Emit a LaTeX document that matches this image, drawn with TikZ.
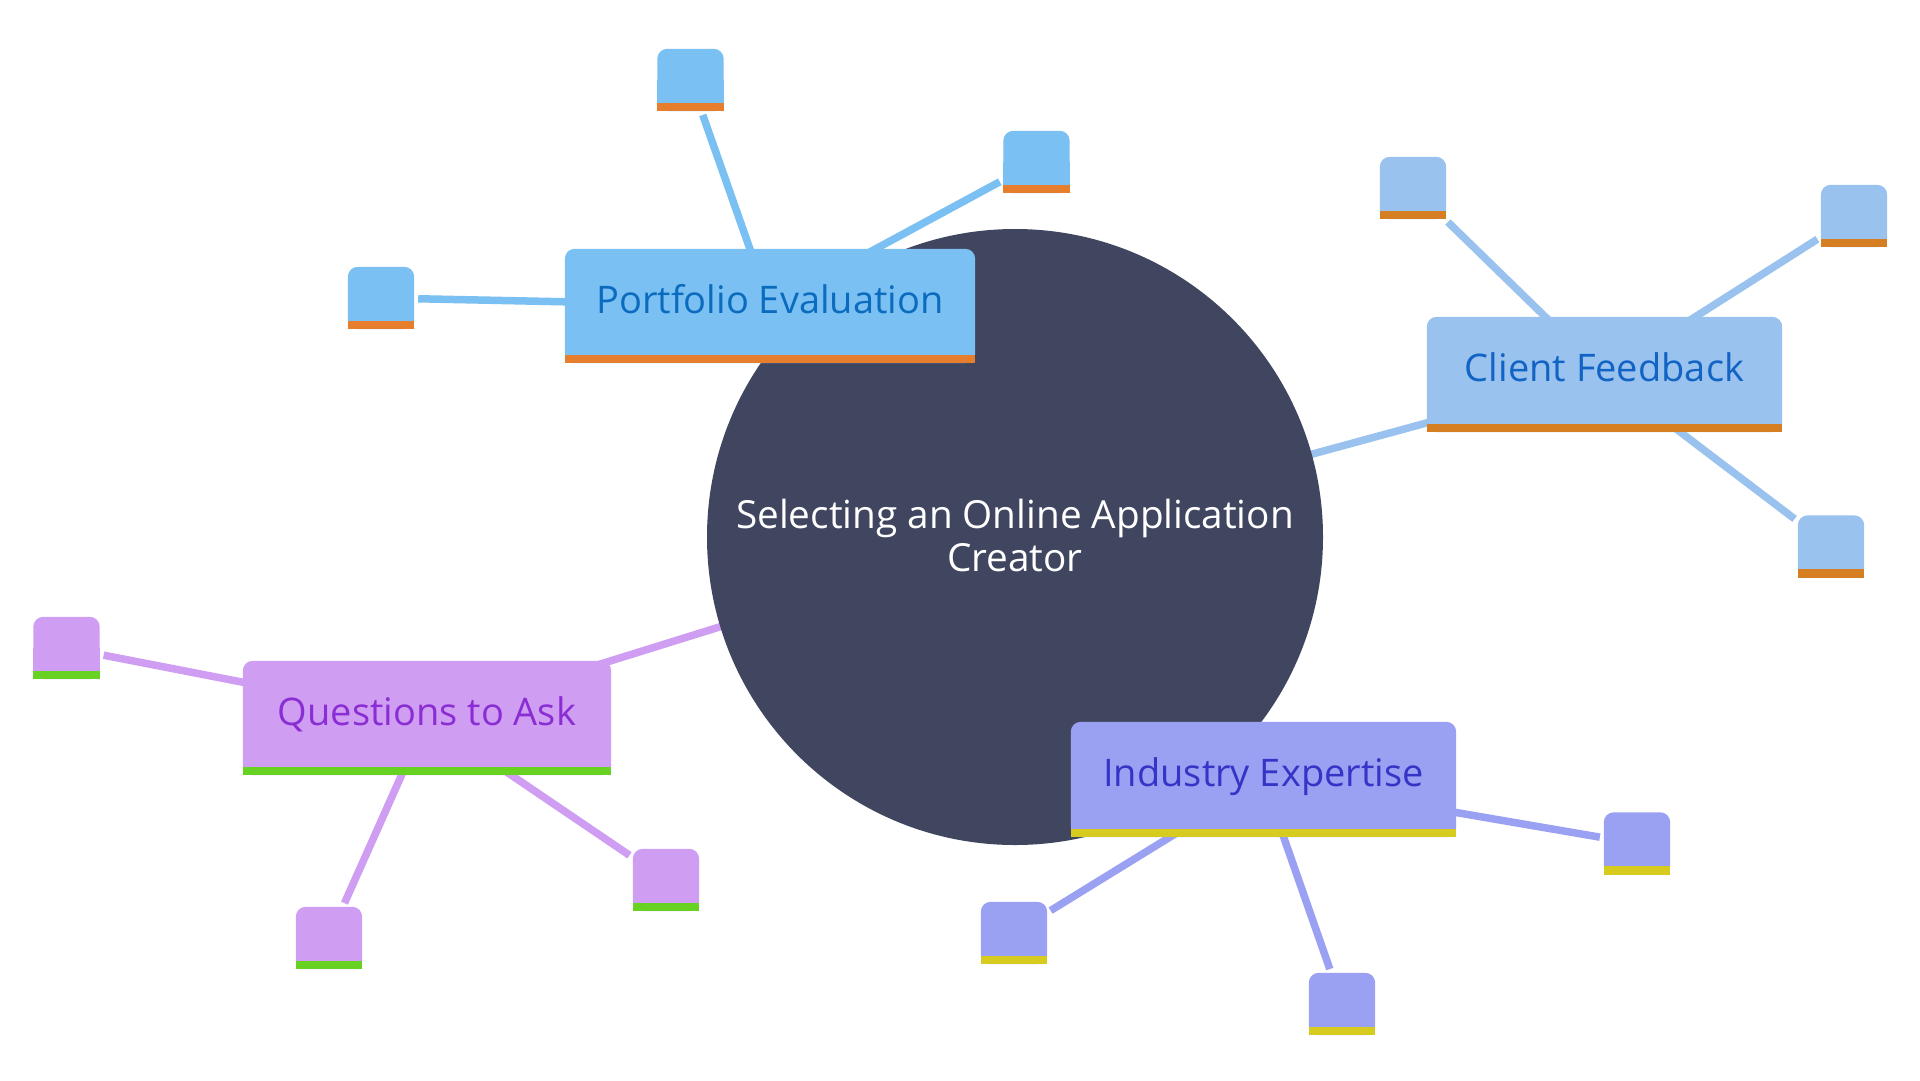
\documentclass[tikz,border=0pt]{standalone}
\usepackage{fontspec}
\setmainfont{Open Sans}
\definecolor{core}{HTML}{414660}
\definecolor{peFill}{HTML}{7AC0F2}
\definecolor{peBar}{HTML}{E67E2E}
\definecolor{peText}{HTML}{0B6BBE}
\definecolor{cfFill}{HTML}{9AC2EE}
\definecolor{cfBar}{HTML}{D67F22}
\definecolor{cfText}{HTML}{1163C4}
\definecolor{ieFill}{HTML}{9AA0F2}
\definecolor{ieBar}{HTML}{D6CB1E}
\definecolor{ieText}{HTML}{3434C6}
\definecolor{qaFill}{HTML}{CF9DF2}
\definecolor{qaBar}{HTML}{67D221}
\definecolor{qaText}{HTML}{8A2ED4}
\pgfdeclarelayer{paper}
\pgfdeclarelayer{links}
\pgfdeclarelayer{disc}
\pgfdeclarelayer{panes}
\pgfsetlayers{paper,links,disc,panes,main}
\begin{document}
\begin{tikzpicture}[x=1pt,y=-1pt,
  topic/.style={rectangle, inner sep=0pt, font=\fontsize{38}{43}\selectfont, text height=1.4em, text depth=0em},
  leaf/.style={rectangle, inner sep=0pt, minimum width=66pt, minimum height=62pt},
  link/.style={line width=7.5pt},
  twig/.style={line width=7.5pt, shorten >=4pt},
]
\begin{pgfonlayer}{paper}
\fill[white] (0,0) rectangle (1920,1080);
\end{pgfonlayer}
\useasboundingbox (0,0) rectangle (1920,1080);

% central topic
\node[circle, minimum size=616pt, inner sep=0pt, text=white, align=center,
      font=\fontsize{38.7}{43}\selectfont] (c) at (1015,535)
      {Selecting an Online Application\\Creator};

% main topics
\node[topic, minimum width=410pt, minimum height=114pt, text=peText] (pe) at (770,306) {Portfolio Evaluation};
\node[topic, minimum width=355pt, minimum height=115pt, text=cfText] (cf) at (1604.5,374.5) {Client Feedback};
\node[topic, minimum width=385pt, minimum height=115pt, text=ieText] (ie) at (1263.5,779.5) {Industry Expertise};
\node[topic, minimum width=368pt, minimum height=114pt, text=qaText] (qa) at (427,718) {Questions to Ask};

% leaves
\node[leaf] (pe1) at (690.5,80) {};
\node[leaf] (pe2) at (1036.5,162) {};
\node[leaf] (pe3) at (381,298) {};
\node[leaf] (cf1) at (1413,188) {};
\node[leaf] (cf2) at (1854,216) {};
\node[leaf] (cf3) at (1831,546.5) {};
\node[leaf] (qa1) at (66.5,648) {};
\node[leaf] (qa2) at (329,938) {};
\node[leaf] (qa3) at (666,880) {};
\node[leaf] (ie1) at (1014,933) {};
\node[leaf] (ie2) at (1342,1004) {};
\node[leaf] (ie3) at (1637,843.5) {};

\begin{pgfonlayer}{disc}
\fill[core] (1015,537) circle[radius=308pt];
\end{pgfonlayer}

\begin{pgfonlayer}{panes}
\foreach \n/\f/\b in {pe/peFill/peBar,pe1/peFill/peBar,pe2/peFill/peBar,pe3/peFill/peBar,
                      cf/cfFill/cfBar,cf1/cfFill/cfBar,cf2/cfFill/cfBar,cf3/cfFill/cfBar,
                      ie/ieFill/ieBar,ie1/ieFill/ieBar,ie2/ieFill/ieBar,ie3/ieFill/ieBar,
                      qa/qaFill/qaBar,qa1/qaFill/qaBar,qa2/qaFill/qaBar,qa3/qaFill/qaBar}{
  \fill[\f, rounded corners=10pt] (\n.south west) rectangle (\n.north east);
  \fill[\f] (\n.south west) rectangle (\n.east);
  \fill[\b] (\n.south west) rectangle ([yshift=8.5pt]\n.south east);
}
\end{pgfonlayer}

\begin{pgfonlayer}{links}
\draw[link, peFill] (c.center) -- (pe.center);
\draw[link, cfFill] (c.center) -- (cf.center);
\draw[link, ieFill] (c.center) -- (ie.center);
\draw[link, qaFill] (c.center) -- (qa.center);
\foreach \p/\f in {pe/peFill, cf/cfFill, ie/ieFill, qa/qaFill}{
  \foreach \k in {1,2,3}{
    \draw[twig, \f] (\p.center) -- (\p\k);
  }
}
\end{pgfonlayer}
\end{tikzpicture}
\end{document}
